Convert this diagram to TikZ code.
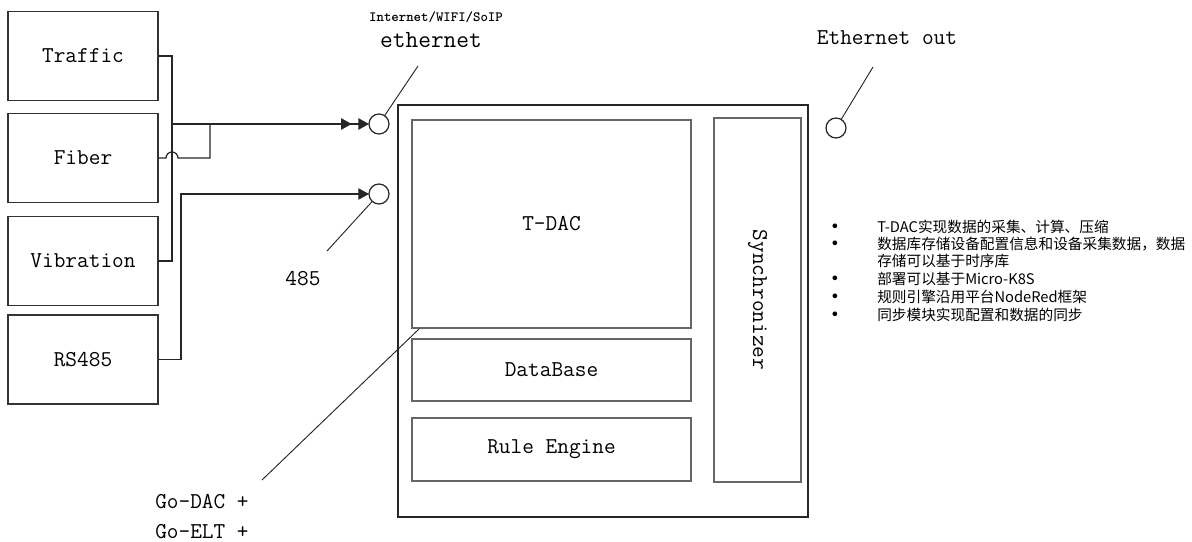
\documentclass[tikz,border=0pt]{standalone}
\usepackage{fontspec}
\newfontfamily\cjkfont{Noto Sans CJK SC}
\usetikzlibrary{arrows.meta}

\tikzset{
  wire/.style={draw=black!85, line width=0.9pt},
  src/.style={draw=black!80, line width=0.9pt, inner sep=0pt, outer sep=0pt,
    minimum width=112.5pt, minimum height=66.75pt,
    font=\ttfamily\fontsize{17}{20}\selectfont},
  part/.style={draw=black!60, line width=0.9pt, inner sep=0pt, outer sep=0pt,
    minimum width=209.25pt, font=\ttfamily\fontsize{17}{20}\selectfont},
  port/.style={circle, draw=black!85, line width=0.9pt, fill=white,
    minimum size=15pt, inner sep=0pt, outer sep=0pt},
  lbl/.style={inner sep=0pt, font=\ttfamily\fontsize{17}{20}\selectfont},
  note/.style={inner sep=0pt, anchor=west, font=\cjkfont\fontsize{11}{13}\selectfont},
  dot/.style={inner sep=0pt, font=\fontsize{13}{13}\selectfont},
  tip/.style={-{Triangle[length=8pt,width=8.5pt]}},
  dbltip/.style={-{Triangle[length=8pt,width=8.5pt,sep=5pt]Triangle[length=8pt,width=8.5pt]}}
}

\begin{document}
\begin{tikzpicture}[x=0.75pt,y=-0.75pt]
\useasboundingbox (0,0) rectangle (1192,542);

% sources
\node[src] (traffic)   at (83,56)    {Traffic};
\node[src] (fiber)     at (83,158)   {Fiber};
\node[src] (vibration) at (83,261)   {Vibration};
\node[src] (rs)        at (83,359.5) {RS485};

% edge box
\node[draw=black!85, line width=0.9pt, minimum width=307.5pt, minimum height=309pt,
  inner sep=0pt, outer sep=0pt] (edge) at (603,311) {};
\node[part, minimum height=156pt]   (tdac) at (551.5,224) {T-DAC};
\node[part, minimum height=46.5pt]  (db)   at (551.5,370) {DataBase};
\node[part, minimum height=47.25pt] (rule) at (551.5,449.5) {Rule Engine};
\node[part, minimum width=65.25pt, minimum height=273pt] (sync) at (757.5,300) {};
\node[lbl, rotate=-90] (synctext) at (sync.center) {Synchronizer};

% ports
\node[port] (ethin)  at (379,124) {};
\node[port] (rsin)   at (379,194) {};
\node[port] (ethout) at (836,128) {};

\coordinate (trunk) at (172,0);
\coordinate (fjoin) at (210,0);
\coordinate (rsbus) at (181,0);

% wiring
\draw[wire] (traffic.east) -- (traffic.east -| trunk) -- (vibration.east -| trunk) -- (vibration.east);
\draw[wire] (fiber.east) -- ++(8,0) arc[start angle=180, end angle=360, radius=6]
  -- (fiber.east -| fjoin) -- (ethin.west -| fjoin);
\draw[wire, line width=1.3pt, dbltip] (ethin.west -| trunk) -- (ethin.west);
\draw[wire, tip] (rs.east) -- (rs.east -| rsbus) -- (rsin.west -| rsbus) -- (rsin.west);

% labels
\node[inner sep=0pt, font=\ttfamily\bfseries\fontsize{10.6}{11}\selectfont] (wifi) at (436,17) {Internet/WIFI/SoIP};
\node[lbl, font=\ttfamily\fontsize{18.5}{20}\selectfont] (eth) at (431,40) {ethernet};
\node[lbl] (out) at (887,38) {Ethernet out};
\node[lbl] (n485) at (303,279) {485};
\node[lbl, anchor=west] (godac) at (155,502) {Go-DAC +};
\node[lbl, anchor=west] (goelt) at (155,532) {Go-ELT +};

\coordinate (ethend) at (418,66);
\coordinate (rsend) at (327,251);
\coordinate (outend) at (873,67);
\coordinate (gotop) at (419,329);
\coordinate (goend) at (262,480);
\draw[wire, line width=0.7pt] (ethin) -- (ethend);
\draw[wire, line width=0.7pt] (rsin) -- (rsend);
\draw[wire, line width=0.7pt] (ethout) -- (outend);
\draw[wire, line width=0.7pt] (gotop) -- (goend);

% notes
\node[dot] (d1) at (835,227) {\textbullet};
\node[note] (t1) at (877,227) {T-DAC实现数据的采集、计算、压缩};
\node[dot] (d2) at (835,244) {\textbullet};
\node[note] (t2) at (877,244) {数据库存储设备配置信息和设备采集数据，数据};
\node[note] (t2b) at (877,261) {存储可以基于时序库};
\node[dot] (d3) at (835,279) {\textbullet};
\node[note] (t3) at (877,279) {部署可以基于Micro-K8S};
\node[dot] (d4) at (835,297) {\textbullet};
\node[note] (t4) at (877,297) {规则引擎沿用平台NodeRed框架};
\node[dot] (d5) at (835,315) {\textbullet};
\node[note] (t5) at (877,315) {同步模块实现配置和数据的同步};
\end{tikzpicture}
\end{document}
